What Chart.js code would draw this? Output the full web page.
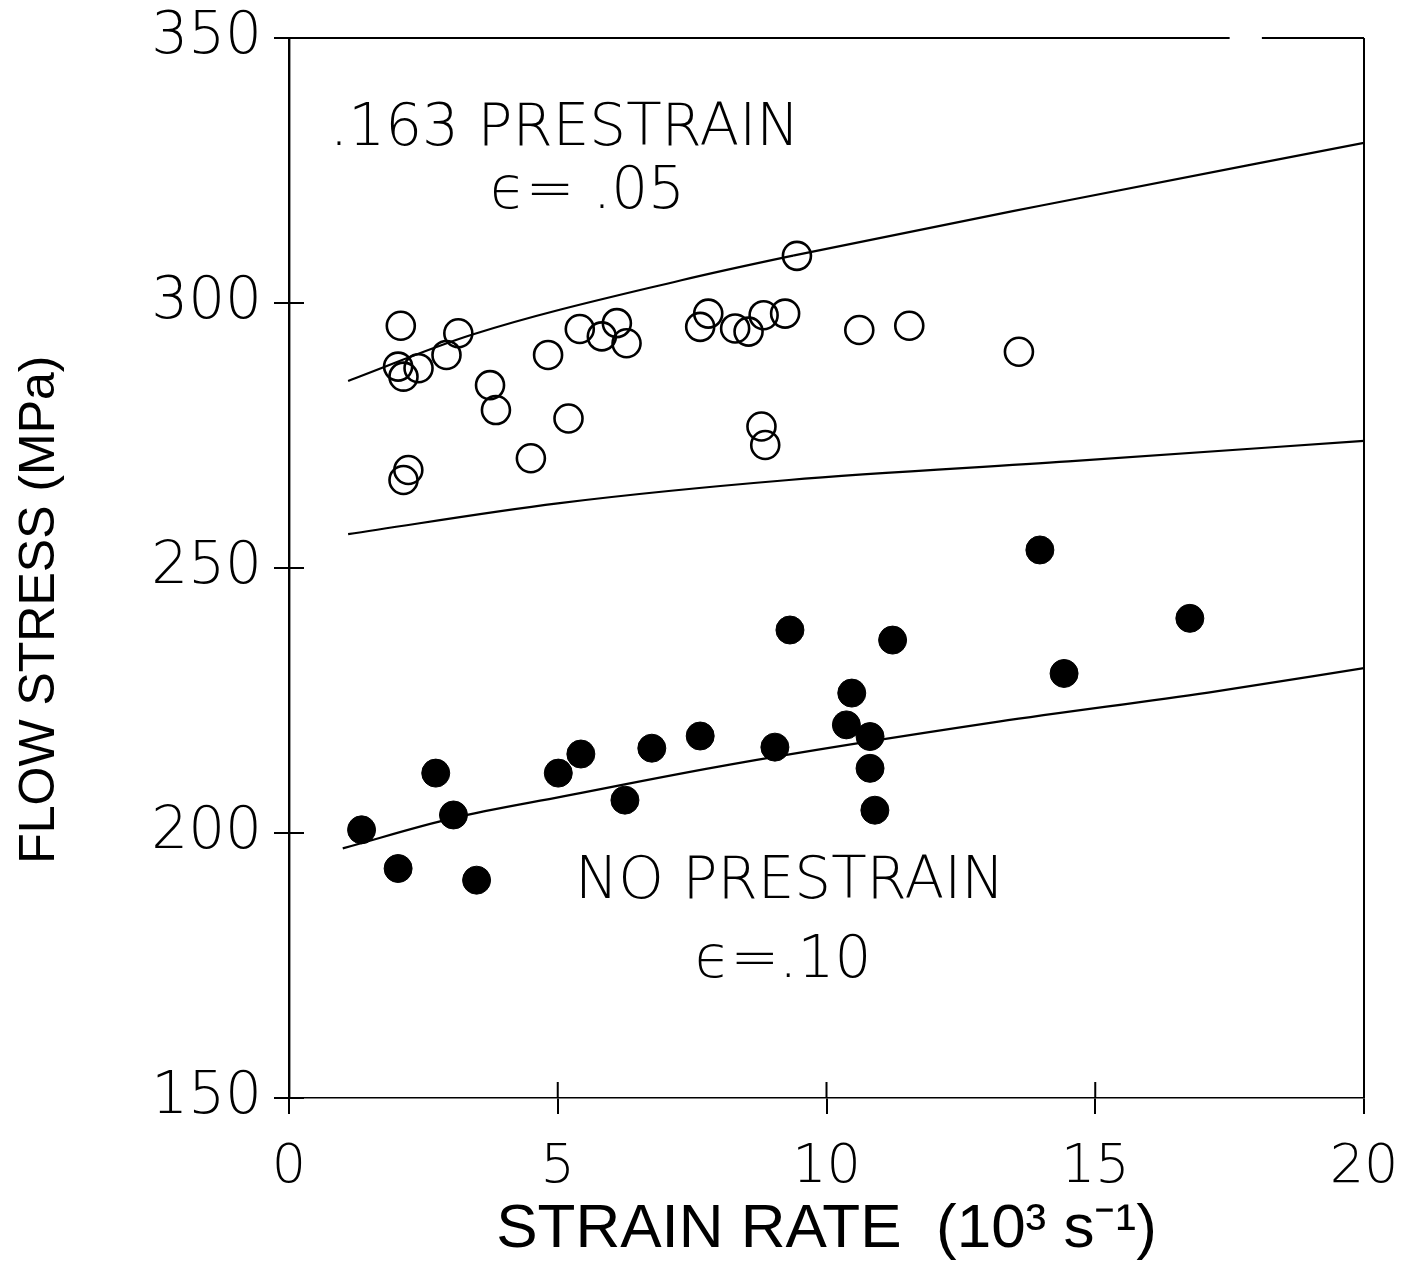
<!DOCTYPE html>
<html>
<head>
<meta charset="utf-8">
<script src="https://cdn.jsdelivr.net/npm/chart.js@4.4.0/dist/chart.umd.min.js"></script>
<style>
  html, body { margin: 0; padding: 0; background: #fff; }
  #wrap { width: 1410px; height: 1271px; }
</style>
</head>
<body>
<div id="wrap"><canvas id="stressChart" width="1410" height="1271"></canvas></div>
<script>
// strain rate (10^3 s^-1) / flow stress (MPa)
const prestrainX = [2.08, 2.03, 2.13, 2.41, 2.93, 3.15, 3.74, 3.85, 4.50, 4.82, 5.20, 2.22, 2.13,
                    5.41, 5.82, 6.10, 6.28, 7.65, 7.80, 8.30, 8.55, 8.83, 9.23, 9.45, 8.79, 8.86,
                    10.61, 11.54, 13.58];
const prestrainY = [295.7, 288.0, 286.1, 287.7, 290.2, 294.3, 284.5, 279.8, 270.7, 290.2, 278.2, 268.5, 266.6,
                    295.1, 293.7, 296.2, 292.4, 295.5, 298.0, 295.2, 294.6, 297.7, 298.0, 308.9, 276.7, 273.2,
                    294.9, 295.7, 290.8];

const noPrestrainX = [1.35, 2.03, 2.73, 3.06, 3.49, 5.01, 5.43, 6.25, 6.75, 7.65, 9.04, 9.32,
                      10.37, 10.47, 10.81, 10.81, 10.90, 11.23, 13.97, 14.42, 16.76];
const noPrestrainY = [200.6, 193.3, 211.3, 203.4, 191.1, 211.3, 214.9, 206.2, 216.0, 218.3, 216.2, 238.3,
                      220.4, 226.4, 218.2, 212.2, 204.3, 236.4, 253.4, 230.1, 240.5];

// model curves
const upperCurveX = [1.1, 3.4, 7.3, 9.4, 14, 20];
const upperCurveY = [285.3, 294.0, 304.3, 309.0, 318.4, 330.2];
const middleCurveX = [1.1, 5, 9.3, 14.5, 20];
const middleCurveY = [256.4, 262.2, 266.6, 270.1, 274.0];
const lowerCurveX = [1.0, 3.05, 5.1, 8.2, 13.2, 17.1, 20];
const lowerCurveY = [197.1, 202.8, 206.9, 212.9, 221.0, 226.5, 231.1];

const xTicks = [0, 5, 10, 15, 20];
const yTicks = [150, 200, 250, 300, 350];

const labels = [
  { text: '.163 PRESTRAIN', x: 0.76, y: 332.6 },
  { text: '\u03f5= .05', x: 3.74, y: 320.8 },
  { text: 'NO PRESTRAIN', x: 5.32, y: 190.6 },
  { text: '\u03f5=.10', x: 7.55, y: 175.7 }
];

const toPoints = (xs, ys) => xs.map((x, i) => ({ x: x, y: ys[i] }));

const lightFont = '"DejaVu Sans", sans-serif';
const titleFont = '"Liberation Sans", Arial, sans-serif';

// frame, crossing ticks and text annotations
const framePlugin = {
  id: 'frame',
  afterDraw(chart) {
    const { ctx, chartArea: a, scales } = chart;
    ctx.save();
    ctx.strokeStyle = '#000';
    ctx.lineWidth = 2;
    // top border with its small gap, right border
    ctx.beginPath();
    ctx.moveTo(a.left, a.top);
    ctx.lineTo(scales.x.getPixelForValue(17.5), a.top);
    ctx.moveTo(scales.x.getPixelForValue(18.1), a.top);
    ctx.lineTo(a.right, a.top);
    ctx.moveTo(a.right, a.top);
    ctx.lineTo(a.right, a.bottom);
    ctx.stroke();
    // inner half of ticks
    ctx.beginPath();
    yTicks.forEach(v => {
      const p = scales.y.getPixelForValue(v);
      ctx.moveTo(a.left, p);
      ctx.lineTo(a.left + 15, p);
    });
    xTicks.forEach(v => {
      const p = scales.x.getPixelForValue(v);
      ctx.moveTo(p, a.bottom);
      ctx.lineTo(p, a.bottom - 16);
    });
    ctx.stroke();
    // annotations
    ctx.fillStyle = '#000';
    ctx.font = '300 58px ' + lightFont;
    ctx.textBaseline = 'middle';
    ctx.textAlign = 'left';
    labels.forEach(l => {
      ctx.fillText(l.text, scales.x.getPixelForValue(l.x), scales.y.getPixelForValue(l.y));
    });
    ctx.restore();
  }
};

const curve = (xs, ys) => ({
  type: 'line',
  data: toPoints(xs, ys),
  borderColor: '#000',
  borderWidth: 2.2,
  pointRadius: 0,
  fill: false,
  cubicInterpolationMode: 'monotone',
  tension: 0.4
});

new Chart(document.getElementById('stressChart'), {
  type: 'scatter',
  data: {
    datasets: [
      curve(upperCurveX, upperCurveY),
      curve(middleCurveX, middleCurveY),
      curve(lowerCurveX, lowerCurveY),
      {
        label: '.163 prestrain',
        data: toPoints(prestrainX, prestrainY),
        pointStyle: 'circle',
        pointRadius: 14,
        pointBorderWidth: 2.6,
        pointBorderColor: '#000',
        pointBackgroundColor: 'rgba(255,255,255,0)'
      },
      {
        label: 'no prestrain',
        data: toPoints(noPrestrainX, noPrestrainY),
        pointStyle: 'circle',
        pointRadius: 14,
        pointBorderWidth: 1,
        pointBorderColor: '#000',
        pointBackgroundColor: '#000'
      }
    ]
  },
  options: {
    responsive: false,
    animation: false,
    devicePixelRatio: 1,
    layout: { padding: { top: 38, right: 46, left: 0, bottom: 0 } },
    plugins: { legend: { display: false }, tooltip: { enabled: false } },
    scales: {
      x: {
        type: 'linear',
        min: 0,
        max: 20,
        afterBuildTicks: s => { s.ticks = xTicks.map(v => ({ value: v })); },
        afterFit: s => { s.height = 173; s.paddingLeft = 0; s.paddingRight = 0; },
        grid: { display: true, drawOnChartArea: false, drawTicks: true, tickLength: 16, color: '#000', lineWidth: 2 },
        border: { display: true, color: '#000', width: 1.6, dash: [16, 9] },
        ticks: { color: '#000', font: { family: lightFont, size: 54, weight: '300' }, padding: 22 },
        title: {
          display: true,
          text: 'STRAIN RATE  (10\u00b3 s\u207b\u00b9)',
          color: '#000',
          font: { family: titleFont, size: 62 },
          padding: { top: 0, bottom: 4 }
        }
      },
      y: {
        type: 'linear',
        min: 150,
        max: 350,
        afterBuildTicks: s => { s.ticks = yTicks.map(v => ({ value: v })); },
        afterFit: s => { s.width = 289; s.paddingTop = 0; s.paddingBottom = 0; },
        grid: { display: true, drawOnChartArea: false, drawTicks: true, tickLength: 15, color: '#000', lineWidth: 2 },
        border: { display: true, color: '#000', width: 2.4 },
        ticks: { color: '#000', font: { family: lightFont, size: 58, weight: '300' }, padding: 12 },
        title: {
          display: true,
          text: 'FLOW STRESS (MPa)      ',
          color: '#000',
          font: { family: titleFont, size: 50 },
          padding: { top: 10, bottom: 0 }
        }
      }
    }
  },
  plugins: [framePlugin]
});
</script>
</body>
</html>
